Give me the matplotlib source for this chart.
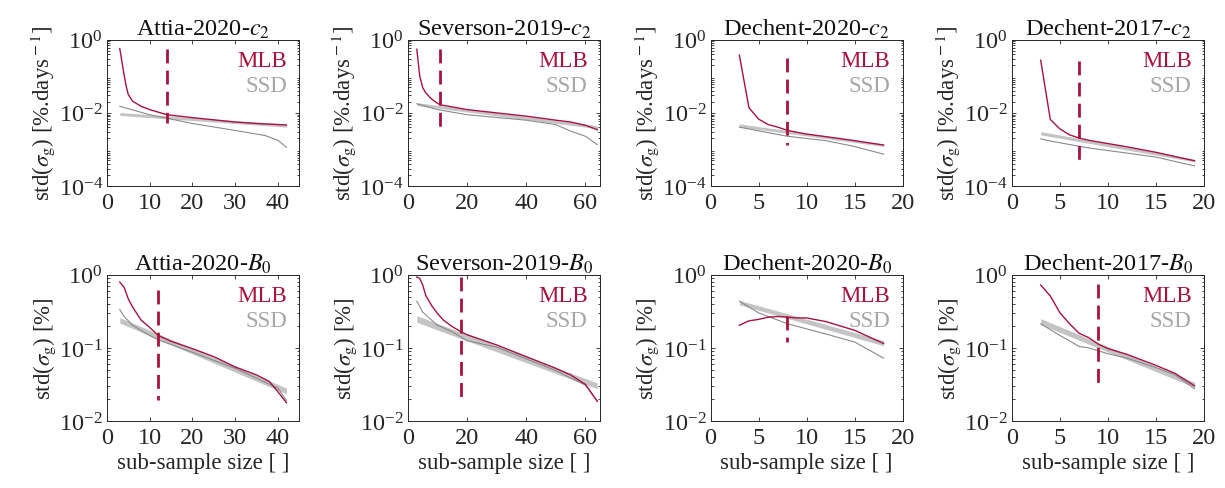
import matplotlib
matplotlib.use("Agg")
import matplotlib.pyplot as plt
import numpy as np
from matplotlib.ticker import LogLocator, NullFormatter, FixedLocator

plt.rcParams['font.family'] = ['Liberation Serif', 'DejaVu Serif']
plt.rcParams['mathtext.fontset'] = 'stix'

RED = '#A8123E'
BAND = '#C4C4C4'
THIN = '#8A8A8A'
SSDTXT = '#A6A6A6'
AXC = '#262626'

titles = ['Attia-2020-$c_2$', 'Severson-2019-$c_2$', 'Dechent-2020-$c_2$', 'Dechent-2017-$c_2$',
          'Attia-2020-$B_0$', 'Severson-2019-$B_0$', 'Dechent-2020-$B_0$', 'Dechent-2017-$B_0$']
xmax = [45, 65, 20, 20, 45, 65, 20, 20]
xticks = [[0, 10, 20, 30, 40], [0, 20, 40, 60], [0, 5, 10, 15, 20], [0, 5, 10, 15, 20],
          [0, 10, 20, 30, 40], [0, 20, 40, 60], [0, 5, 10, 15, 20], [0, 5, 10, 15, 20]]

# MLB curves (x, log10 y)
mlb_x = [
    [3, 4, 4.5, 5, 6, 8, 10, 14, 20, 25, 30, 35, 42],
    [3, 4, 5, 6, 8, 10, 11, 20, 30, 40, 50, 55, 60, 64],
    [3, 4, 5, 6, 7, 8, 10, 12, 15, 18],
    [3, 4, 5, 6, 7, 8, 10, 12, 15, 19],
    [3, 4, 5, 6, 8, 10, 12, 15, 20, 25, 30, 35, 38, 40, 42],
    [3, 4, 5, 6, 8, 10, 12, 15, 18, 20, 30, 40, 50, 55, 60, 64],
    [3, 4, 5, 6, 7, 8, 9, 10, 12, 13, 15, 18],
    [3, 4, 5, 6, 7, 8, 9, 10, 12, 15, 17, 19],
]
mlb_logy = [
    [-0.24, -0.95, -1.27, -1.50, -1.68, -1.82, -1.91, -2.05, -2.13, -2.19, -2.25, -2.29, -2.33],
    [-0.26, -1.00, -1.31, -1.45, -1.62, -1.74, -1.78, -1.91, -2.00, -2.09, -2.20, -2.25, -2.34, -2.46],
    [-0.42, -1.86, -2.17, -2.32, -2.39, -2.48, -2.58, -2.65, -2.76, -2.88],
    [-0.56, -2.18, -2.44, -2.60, -2.69, -2.75, -2.84, -2.93, -3.08, -3.31],
    [-0.10, -0.17, -0.33, -0.44, -0.62, -0.72, -0.83, -0.91, -1.01, -1.12, -1.26, -1.37, -1.46, -1.60, -1.75],
    [-0.03, -0.05, -0.14, -0.28, -0.42, -0.53, -0.62, -0.71, -0.78, -0.82, -0.96, -1.12, -1.28, -1.37, -1.50, -1.73],
    [-0.69, -0.63, -0.61, -0.58, -0.57, -0.58, -0.59, -0.59, -0.64, -0.68, -0.76, -0.94],
    [-0.14, -0.29, -0.52, -0.67, -0.80, -0.86, -0.95, -1.01, -1.09, -1.24, -1.35, -1.52],
]

# SSD thin empirical curves
ssd_x = [
    [3, 10, 20, 30, 37, 40, 42],
    [3, 10, 20, 40, 50, 55, 60, 64],
    [3, 8, 12, 15, 18],
    [3, 4, 8, 12, 15, 19],
    [3, 4, 6, 10, 12, 20, 30, 40, 42],
    [3, 5, 8, 10, 15, 20, 30, 40, 50, 60, 64],
    [3, 5, 8, 10, 12, 15, 18],
    [3, 5, 7, 8, 10, 12, 15, 17, 19],
]
ssd_logy = [
    [-1.82, -2.05, -2.29, -2.48, -2.62, -2.75, -2.94],
    [-1.75, -1.91, -2.05, -2.20, -2.32, -2.50, -2.64, -2.87],
    [-2.39, -2.64, -2.76, -2.92, -3.13],
    [-2.71, -2.77, -2.96, -3.10, -3.21, -3.45],
    [-0.475, -0.57, -0.69, -0.83, -0.89, -1.06, -1.28, -1.55, -1.72],
    [-0.36, -0.51, -0.62, -0.69, -0.78, -0.90, -0.99, -1.15, -1.31, -1.51, -1.73],
    [-0.36, -0.52, -0.67, -0.74, -0.81, -0.92, -1.14],
    [-0.67, -0.83, -0.98, -1.00, -1.08, -1.14, -1.27, -1.37, -1.56],
]

# SSD fitted band: (x_start, x_end), upper and lower edges in log10
band_x = [[3, 42], [3, 64], [3, 18], [3, 19], [3, 42], [3, 64], [3, 18], [3, 19]]
band_hi = [[-1.99, -2.31], [-1.72, -2.35], [-2.30, -2.85], [-2.51, -3.27],
           [-0.585, -1.55], [-0.56, -1.48], [-0.35, -0.90], [-0.60, -1.47]]
band_lo = [[-2.07, -2.39], [-1.80, -2.43], [-2.38, -2.92], [-2.60, -3.34],
           [-0.66, -1.63], [-0.65, -1.56], [-0.41, -0.97], [-0.68, -1.54]]

# chosen sub-sample size (dashed marker): x, log10 y top, log10 y bottom
sel_x = [14, 11, 8, 7, 12, 18, 8, 9]
sel_top = [-0.24, -0.26, -0.51, -0.58, -0.21, -0.03, -0.56, -0.13]
sel_bot = [-2.28, -2.45, -2.89, -3.33, -1.71, -1.71, -0.92, -1.52]

fig = plt.figure(figsize=(12.25, 4.89), dpi=100)
lefts = [0.0873, 0.333, 0.580, 0.826]
w = 0.157
bottoms = [0.6176, 0.137]
h = 0.299
FS = 17.5

for i in range(8):
    r, c = divmod(i, 4)
    ax = fig.add_axes([lefts[c], bottoms[r], w, h])
    ax.set_yscale('log')
    bx = np.array(band_x[i])
    ax.fill_between(bx, 10 ** np.array(band_lo[i]), 10 ** np.array(band_hi[i]),
                    color=BAND, lw=0, zorder=1)
    ax.plot(ssd_x[i], 10 ** np.array(ssd_logy[i]), color=THIN, lw=0.8, zorder=2)
    ax.plot(mlb_x[i], 10 ** np.array(mlb_logy[i]), color=RED, lw=1.0, zorder=3)
    ax.plot([sel_x[i], sel_x[i]], [10 ** sel_top[i], 10 ** sel_bot[i]], color=RED,
            lw=2.0, ls=(0, (5, 2.6)), zorder=4)
    ax.set_xlim(0, xmax[i])
    ax.set_xticks(xticks[i])
    if r == 0:
        ax.set_ylim(1e-4, 1e0)
        ax.yaxis.set_major_locator(FixedLocator([1e-4, 1e-2, 1e0]))
        ax.set_ylabel(r'std($\sigma_{\rm g}$) [%.days$^{\rm -1}$]', fontsize=16.5, color=AXC, labelpad=1)
    else:
        ax.set_ylim(1e-2, 1e0)
        ax.yaxis.set_major_locator(FixedLocator([1e-2, 1e-1, 1e0]))
        ax.set_ylabel(r'std($\sigma_{\rm g}$) [%]', fontsize=16.5, color=AXC, labelpad=1)
        ax.set_xlabel('sub-sample size [ ]', fontsize=16.5, color=AXC, labelpad=3)
    ax.yaxis.set_minor_locator(LogLocator(base=10, subs=np.arange(2, 10), numticks=20))
    ax.yaxis.set_minor_formatter(NullFormatter())
    ax.tick_params(which='both', direction='in', top=True, right=True, colors=AXC,
                   labelsize=FS, width=0.6)
    ax.tick_params(which='major', length=3)
    ax.tick_params(which='minor', length=1.8)
    ax.tick_params(axis='x', pad=4)
    ax.tick_params(axis='y', pad=3)
    for s in ax.spines.values():
        s.set_color(AXC)
        s.set_linewidth(0.7)
    ax.set_title(titles[i], fontsize=17.5, color='#111111', pad=4)
    ax.text(0.935, 0.856, 'MLB', transform=ax.transAxes, ha='right', va='center',
            color=RED, fontsize=16.5)
    ax.text(0.935, 0.685, 'SSD', transform=ax.transAxes, ha='right', va='center',
            color=SSDTXT, fontsize=16.5)

fig.savefig('out.png', dpi=100, facecolor='white')
